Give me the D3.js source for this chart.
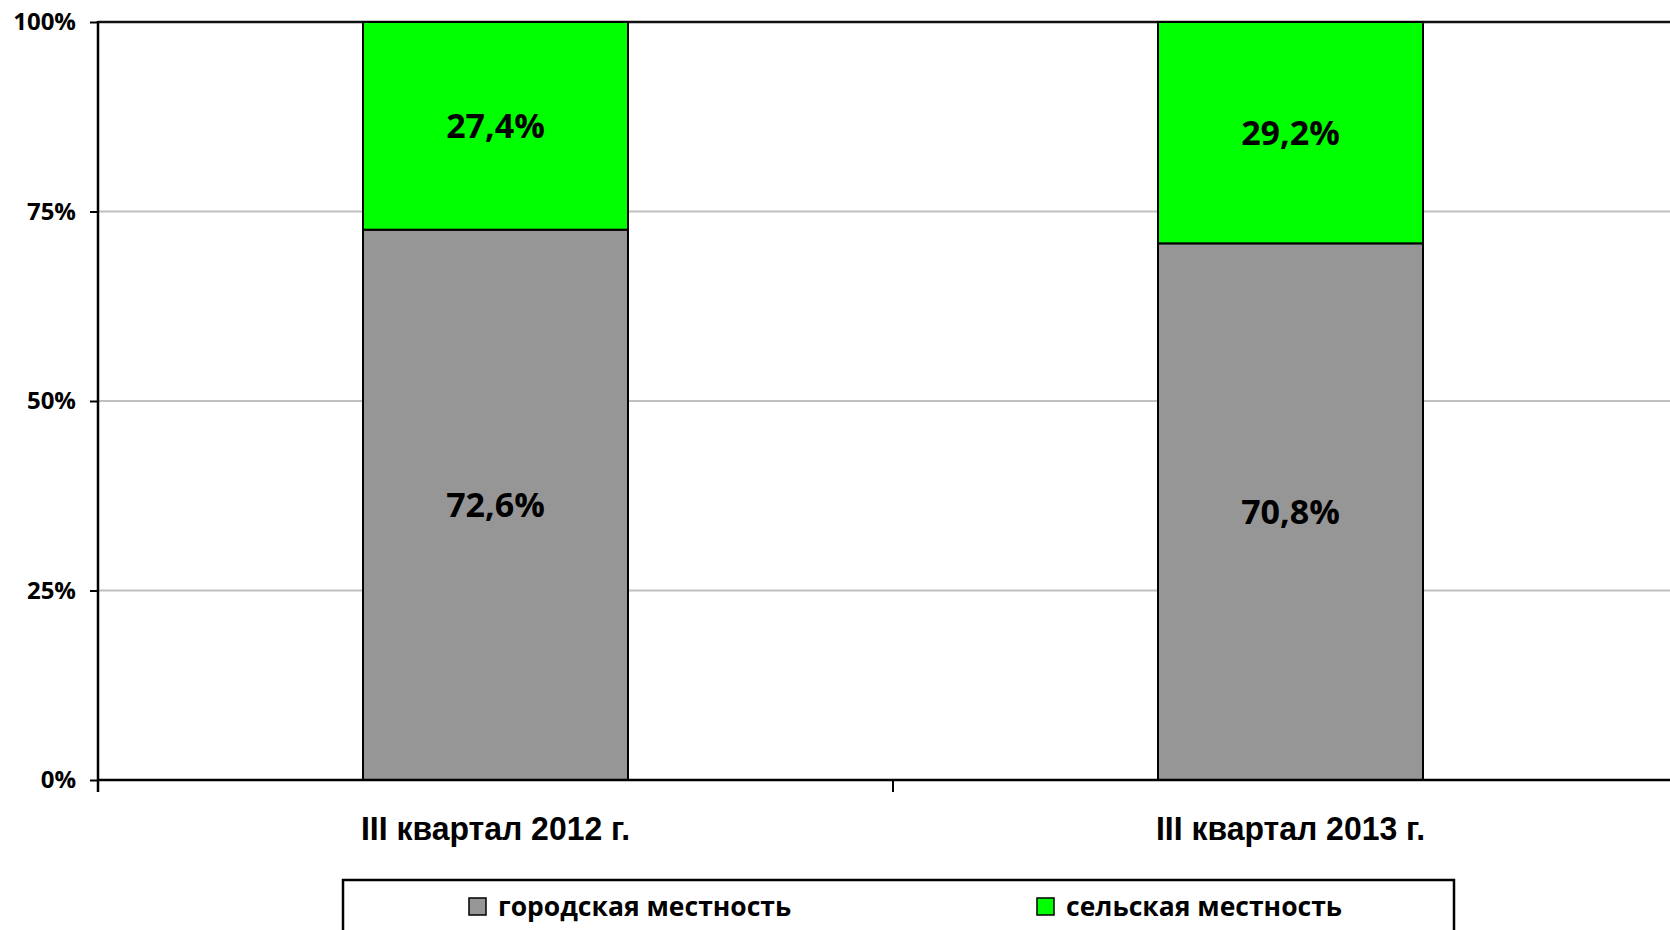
<!DOCTYPE html>
<html><head><meta charset="utf-8">
<script src="https://cdn.jsdelivr.net/npm/d3@7"></script>
<style>
html,body{margin:0;padding:0;background:#fff;}
svg{display:block;}
</style></head>
<body>
<svg id="chart" width="1670" height="930"></svg>
<script>
const categories = ["III квартал 2012 г.", "III квартал 2013 г."];
const seriesNames = ["городская местность", "сельская местность"];
const urbanValues = [72.6, 70.8];
const ruralValues = [27.4, 29.2];
const yTickValues = [0, 25, 50, 75, 100];
const seriesColors = ["#969696", "#00ff00"];

(function () {
const svg = d3.select("#chart");
const mLeft = 98, mTop = 22, mBottom = 780, plotRight = 1688;

const x = d3.scaleBand().domain(categories).range([mLeft, plotRight]).paddingInner(2/3).paddingOuter(1/3);
const y = d3.scaleLinear().domain([0, 100]).range([mBottom, mTop]);

const stackData = categories.map((c, i) => ({cat: c, urban: urbanValues[i], rural: ruralValues[i]}));
const stack = d3.stack().keys(["urban", "rural"]);
const layers = stack(stackData);

// gridlines
svg.append("g").selectAll("line").data(yTickValues.filter(v => v > 0 && v < 100)).join("line")
  .attr("x1", mLeft).attr("x2", 1670).attr("y1", d => y(d)).attr("y2", d => y(d))
  .attr("stroke", "#c0c0c0").attr("stroke-width", 2);
// top border
svg.append("line").attr("x1", mLeft).attr("x2", 1670).attr("y1", y(100)).attr("y2", y(100))
  .attr("stroke", "#111").attr("stroke-width", 2.5);

// bars
layers.forEach((layer, li) => {
  svg.append("g").selectAll("rect").data(layer).join("rect")
    .attr("x", d => x(d.data.cat))
    .attr("width", x.bandwidth())
    .attr("y", d => y(d[1]))
    .attr("height", d => y(d[0]) - y(d[1]))
    .attr("fill", seriesColors[li])
    .attr("stroke", "#000").attr("stroke-width", 2);
  svg.append("g").selectAll("text").data(layer).join("text")
    .attr("x", d => x(d.data.cat) + x.bandwidth() / 2)
    .attr("y", d => (y(d[0]) + y(d[1])) / 2)
    .attr("text-anchor", "middle").attr("dy", "0.36em")
    .attr("font-family", "'Open Sans', sans-serif").attr("font-weight", 700)
    .attr("font-size", 34).attr("fill", "#000")
    .text(d => d3.format(".1f")(d[1] - d[0]).replace(".", ",") + "%");
});

// y axis
const yAxis = d3.axisLeft(y).tickValues(yTickValues).tickFormat(d => d + "%").tickSize(8).tickPadding(14);
const gy = svg.append("g").attr("transform", `translate(${mLeft},0)`).call(yAxis);
gy.select(".domain").remove();
gy.selectAll(".tick line").attr("stroke", "#000").attr("stroke-width", 2);
gy.selectAll(".tick text").attr("font-family", "'Open Sans', sans-serif").attr("font-weight", 700)
  .attr("font-size", 24).attr("fill", "#000");
svg.append("line").attr("x1", mLeft).attr("x2", mLeft).attr("y1", mTop - 1).attr("y2", mBottom + 12)
  .attr("stroke", "#000").attr("stroke-width", 2.5);

// x axis
const gx = svg.append("g").attr("transform", `translate(0,${mBottom})`)
  .call(d3.axisBottom(x).tickSize(0).tickPadding(36));
gx.select(".domain").remove();
gx.selectAll(".tick text").attr("font-family", "'Liberation Sans', Arial, sans-serif")
  .attr("font-weight", 700).attr("font-size", 34).attr("fill", "#000")
  .attr("transform", "scale(0.94,1)");
svg.append("line").attr("x1", mLeft).attr("x2", 1670).attr("y1", mBottom).attr("y2", mBottom)
  .attr("stroke", "#000").attr("stroke-width", 2.5);
const boundaries = d3.range(categories.length + 1).map(i => mLeft + i * x.step());
svg.append("g").selectAll("line").data(boundaries).join("line")
  .attr("x1", d => d).attr("x2", d => d).attr("y1", mBottom).attr("y2", mBottom + 12)
  .attr("stroke", "#000").attr("stroke-width", 2);

// legend
const lg = svg.append("g");
lg.append("rect").attr("x", 343).attr("y", 880).attr("width", 1111).attr("height", 80)
  .attr("fill", "#fff").attr("stroke", "#000").attr("stroke-width", 2.5);
const legendX = [469, 1037];
seriesNames.forEach((name, i) => {
  lg.append("rect").attr("x", legendX[i]).attr("y", 898).attr("width", 17).attr("height", 17)
    .attr("fill", seriesColors[i]).attr("stroke", "#000").attr("stroke-width", 1.5);
  lg.append("text").attr("x", legendX[i] + 29).attr("y", 916)
    .attr("font-family", "'Open Sans', sans-serif").attr("font-weight", 700)
    .attr("font-size", 26.5).attr("fill", "#000").text(name);
});
})();
</script>
</body></html>
